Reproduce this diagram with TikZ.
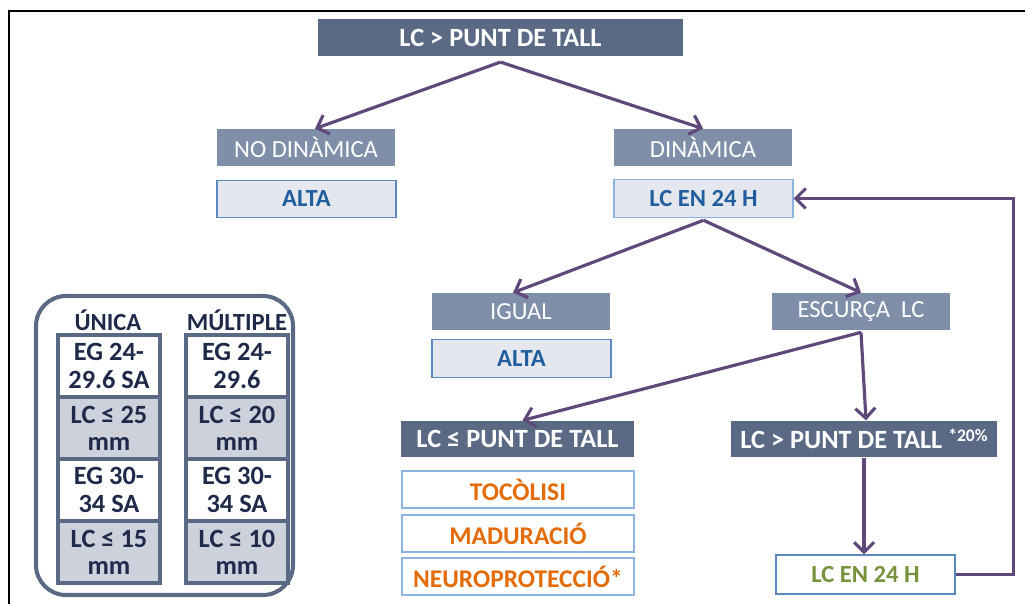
\documentclass[tikz,border=0pt]{standalone}
\usepackage{fontspec}
\setmainfont{Carlito}
\usetikzlibrary{arrows.meta}

\definecolor{slatedark}{HTML}{5A6A85}
\definecolor{slatemid}{HTML}{7F8FA9}
\definecolor{paleblue}{HTML}{E4E8EE}
\definecolor{cellgrey}{HTML}{CCD1DC}
\definecolor{textblue}{HTML}{215E9E}
\definecolor{boxblue}{HTML}{5B88C0}
\definecolor{lineblue}{HTML}{8DB3E2}
\definecolor{textorange}{HTML}{E36C09}
\definecolor{textgreen}{HTML}{76923C}
\definecolor{textnavy}{HTML}{1F2A4A}
\definecolor{arrowpurple}{HTML}{5F497A}

\begin{document}
\begin{tikzpicture}[x=0.02cm, y=-0.02cm,
    headbox/.style   ={fill=slatedark, text=white, inner sep=0pt, minimum height=0.73cm,
                       font=\fontsize{15}{17}\selectfont\bfseries},
    branchbox/.style ={fill=slatemid, text=white, inner sep=0pt, minimum width=3.56cm,
                       minimum height=0.74cm, font=\fontsize{14}{16}\selectfont},
    resultbox/.style ={fill=paleblue, draw=boxblue, line width=0.6pt, text=textblue, inner sep=0pt,
                       minimum width=3.58cm, minimum height=0.75cm, font=\fontsize{14}{16}\selectfont\bfseries},
    treatbox/.style  ={fill=white, draw=lineblue, line width=0.6pt, text=textorange, inner sep=0pt,
                       minimum width=4.64cm, minimum height=0.74cm, font=\fontsize{14.5}{16}\selectfont\bfseries},
    cellw/.style     ={fill=white, draw=slatedark, line width=2.2pt, text=textnavy, align=center, inner sep=0pt,
                       minimum width=2.04cm, minimum height=1.24cm, font=\fontsize{15}{15.5}\selectfont\bfseries},
    cellg/.style     ={cellw, fill=cellgrey},
    colhead/.style   ={text=textnavy, inner sep=0pt, anchor=base, font=\fontsize{14}{16}\selectfont\bfseries},
    flow/.style      ={draw=arrowpurple, line width=1.8pt, -{Straight Barb[length=2mm, width=4mm]}}
  ]
  \useasboundingbox (0,0) rectangle (1025,604);
  \draw [black, line width=1.2pt] (9,604) -- (9,11) -- (1025,11);                      % page frame

  % decision tree
  \node [headbox, minimum width=7.3cm]  (top)    at (500.5,37.5) {LC > PUNT DE TALL};
  \node [branchbox]                     (nodin)  at (306,147.5)  {NO DINÀMICA};
  \node [resultbox]                     (altaA)  at (306.5,199)  {ALTA};
  \node [branchbox]                     (din)    at (703,147.5)  {DINÀMICA};
  \node [resultbox, draw=lineblue]      (lc24)   at (703.5,198.5) {LC EN 24 H};
  \node [branchbox]                     (igual)  at (521,311.5)  {IGUAL};
  \node [resultbox]                     (altaB)  at (521.5,358.5) {ALTA};
  \node [branchbox]                     (escur)  at (861,311.5)  {ESCURÇA\ \ LC};
  \node [headbox, minimum width=4.66cm] (lcle)   at (517.5,439)  {LC ≤ PUNT DE TALL};
  \node [treatbox]                      (toco)   at (518,489.5)  {TOCÒLISI};
  \node [treatbox]                      (madu)   at (518,533.5)  {MADURACIÓ};
  \node [treatbox]                      (neuro)  at (518,576.5)  {NEUROPROTECCIÓ*};
  \node [headbox, minimum width=5.32cm] (lcgt)   at (864,439)
        {LC > PUNT DE TALL \raisebox{0.5ex}{\fontsize{10}{10}\selectfont*20\%}};
  \node [resultbox, fill=white, text=textgreen, minimum height=0.78cm]
                                        (lc24b)  at (865.5,574.5) {LC EN 24 H};

  \draw [flow] ([yshift=-0.12cm]top.south)  -- ([xshift=0.18cm]nodin.north);         % to no dinamica
  \draw [flow] ([yshift=-0.12cm]top.south)  -- (din.north);                          % to dinamica
  \draw [flow] ([yshift=-0.05cm]lc24.south) -- ([xshift=-0.16cm]igual.north);        % to igual
  \draw [flow] ([yshift=-0.05cm]lc24.south) -- (escur.north);                        % to escurca
  \draw [flow] ([yshift=-0.04cm]escur.south) -- ([xshift=0.1cm]lcle.north);          % to lc <= punt
  \draw [flow] ([yshift=-0.04cm]escur.south) -- ([xshift=0.04cm]lcgt.north);         % to lc > punt
  \draw [flow] (lcgt.south) -- (lcgt.south |- lc24b.north);                          % to control
  \draw [flow] (lc24b.east) -- ++(58,0) |- (lc24.east);                              % back loop

  % legend of cut-off points
  \draw [slatedark, line width=2.3pt, rounded corners=0.6cm] (36,296) rectangle (293,595);
  \node [colhead] (hdunica) at (108,331) {ÚNICA};
  \node [colhead] (hdmulti) at (237,331) {MÚLTIPLE};
  \node [cellw] (unica1) at (109,366) {EG 24-\\29.6 SA};
  \node [cellg] (unica2) at (109,428) {LC ≤ 25\\mm};
  \node [cellw] (unica3) at (109,490) {EG 30-\\34 SA};
  \node [cellg] (unica4) at (109,552) {LC ≤ 15\\mm};
  \node [cellw] (multi1) at (237,366) {EG 24-\\29.6};
  \node [cellg] (multi2) at (237,428) {LC ≤ 20\\mm};
  \node [cellw] (multi3) at (237,490) {EG 30-\\34 SA};
  \node [cellg] (multi4) at (237,552) {LC ≤ 10\\mm};
\end{tikzpicture}
\end{document}
